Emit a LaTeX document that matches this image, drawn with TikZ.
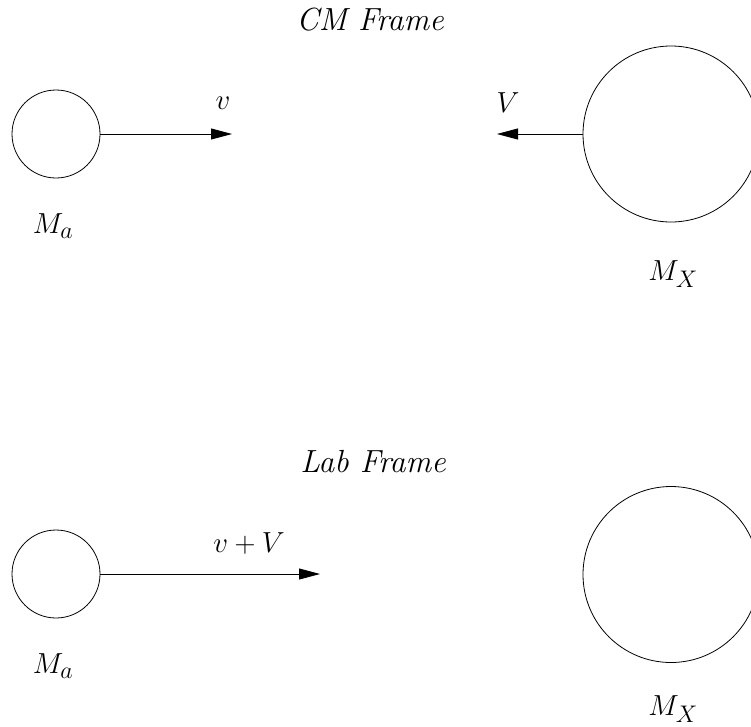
\RequirePackage{fix-cm}
\documentclass[tikz,border=0pt]{standalone}
\usetikzlibrary{arrows.meta}
\DeclareMathSizes{29}{29}{24}{20}
\begin{document}
\begin{tikzpicture}[x=1pt,y=-1pt,
  ball/.style={draw,circle,line width=0.8pt,inner sep=0pt},
  lbl/.style={font=\fontsize{29}{34}\selectfont\itshape,inner sep=0pt},
  ttl/.style={font=\fontsize{32}{38}\selectfont\itshape,inner sep=0pt},
  vec/.style={line width=0.8pt,-{Triangle[length=21pt,width=11pt]}}]
\useasboundingbox (0,0) rectangle (751,726);
% CM frame
\node[ttl] (cmt) at (370,20) {CM Frame};
\node[ball,minimum size=88pt] (a1) at (56,134) {};
\node[ball,minimum size=176pt] (x1) at (671,134) {};
\coordinate (a1e) at (232,134);
\coordinate (x1e) at (497,134);
\draw[vec] (a1.east) -- (a1e);
\draw[vec] (x1.west) -- (x1e);
\node[lbl] (vl) at (223,103) {$v$};
\node[lbl] (Vl) at (508,103) {$V$};
\node[lbl] (ma1) at (53,226) {$M_a$};
\node[lbl] (mx1) at (673,274) {$M_X$};
% Lab frame
\node[ttl] (lbt) at (373,462) {Lab Frame};
\node[ball,minimum size=88pt] (a2) at (56,574) {};
\node[ball,minimum size=176pt] (x2) at (671,574.5) {};
\coordinate (a2e) at (320,574);
\draw[vec] (a2.east) -- (a2e);
\node[lbl] (vVl) at (249,543) {$v + V$};
\node[lbl] (ma2) at (53,666) {$M_a$};
\node[lbl] (mx2) at (673,709) {$M_X$};
\end{tikzpicture}
\end{document}
